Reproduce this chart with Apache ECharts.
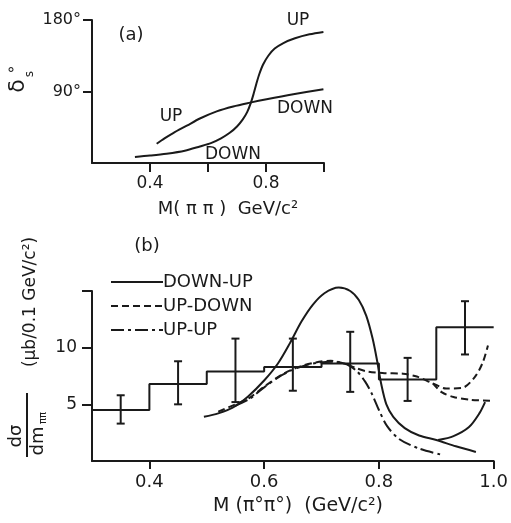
<!DOCTYPE html>
<html>
<head>
<meta charset="utf-8">
<script src="https://cdn.jsdelivr.net/npm/echarts@6/dist/echarts.min.js"></script>
<style>
html, body { margin: 0; padding: 0; background: #fff; }
#chart { width: 511px; height: 523px; }
</style>
</head>
<body>
<div id="chart"></div>
<script>
// (a) phase shift curves
const phaseSteep = [[0.348, 7.5], [0.4, 9.3], [0.457, 11.7], [0.52, 15.5], [0.572, 20.8], [0.61, 25], [0.645, 31], [0.675, 38], [0.7, 46], [0.72, 55], [0.735, 64], [0.748, 76], [0.758, 88], [0.767, 100], [0.777, 112], [0.79, 124], [0.808, 135], [0.83, 144], [0.86, 151], [0.9, 157], [0.95, 162], [0.998, 165]]
const phaseShallow = [[0.423, 24.2], [0.45, 31], [0.48, 37.7], [0.527, 47], [0.572, 56], [0.63, 65], [0.687, 71.2], [0.745, 76], [0.802, 80.3], [0.894, 86.6], [0.998, 92.9]]
const aXTicks = [0.4, 0.6, 0.8, 1.0]
const aXLabels = [0.4, 0.8]
const aYTicks = [90, 180]

// (b) mass spectrum
const binEdges = [0.3, 0.4, 0.5, 0.6, 0.7, 0.8, 0.9, 1.0]
const binValues = [4.5, 6.8, 7.9, 8.3, 8.6, 7.2, 11.8]
const errX = [0.35, 0.45, 0.55, 0.65, 0.75, 0.85, 0.95]
const errLow = [3.3, 5.0, 5.2, 6.2, 6.1, 5.3, 9.4]
const errHigh = [5.8, 8.8, 10.8, 10.8, 11.4, 9.1, 14.1]
const downUp = [[0.495, 3.9], [0.52, 4.2], [0.545, 4.7], [0.572, 5.7], [0.6, 7.1], [0.624, 8.6], [0.645, 10.4], [0.665, 12.3], [0.685, 13.8], [0.705, 14.8], [0.73, 15.3], [0.75, 15.0], [0.765, 14.2], [0.778, 12.8], [0.789, 10.8], [0.797, 8.8], [0.804, 6.8], [0.813, 5.0], [0.825, 3.9], [0.845, 2.9], [0.87, 2.25], [0.9, 1.85], [0.934, 1.3], [0.969, 0.8]]
const downUpBranch = [[0.903, 1.85], [0.93, 2.2], [0.957, 3.0], [0.975, 4.2], [0.985, 5.2]]
const upDown = [[0.52, 4.35], [0.55, 5.0], [0.575, 5.6], [0.6, 6.55], [0.63, 7.6], [0.66, 8.3], [0.69, 8.7], [0.716, 8.85], [0.74, 8.6], [0.76, 8.2], [0.78, 7.9], [0.81, 7.75], [0.842, 7.7], [0.866, 7.45], [0.894, 6.85], [0.917, 6.4], [0.945, 6.45], [0.967, 7.4], [0.981, 8.7], [0.99, 10.2]]
const upDownBranch = [[0.894, 6.85], [0.91, 6.05], [0.93, 5.65], [0.96, 5.4], [0.998, 5.3]]
const upUp = [[0.55, 4.9], [0.575, 5.5], [0.6, 6.5], [0.63, 7.55], [0.66, 8.25], [0.69, 8.65], [0.72, 8.75], [0.745, 8.5], [0.762, 7.9], [0.776, 7.0], [0.788, 5.9], [0.8, 4.5], [0.814, 3.1], [0.835, 1.95], [0.87, 1.1], [0.911, 0.53]]
const bXTicks = [0.4, 0.6, 0.8, 1.0]
const bYTicks = [5, 10, 15]
const bYLabels = [5, 10]

const ink = '#1a1a1a'
const font = 'DejaVu Sans'
const dashed = [7, 4]
const dashDot = [13, 4, 3, 4]

const chart = echarts.init(document.getElementById('chart'))

function axisBase(extra) {
  return Object.assign({
    type: 'value',
    axisLine: { show: true, lineStyle: { color: ink, width: 2 } },
    splitLine: { show: false }
  }, extra)
}

function text(x, y, str, size, extra) {
  return Object.assign({
    type: 'text', x: x, y: y,
    style: { text: str, font: size + 'px "' + font + '"', fill: ink, align: 'center', verticalAlign: 'middle' }
  }, extra || {})
}

const histData = binEdges.map((x, i) => [x, binValues[Math.min(i, binValues.length - 1)]])
const errData = errX.map((x, i) => [x, errLow[i], errHigh[i]])

const curve = (name, data, type, axis) => ({
  name: name, type: 'line', xAxisIndex: axis, yAxisIndex: axis, data: data,
  smooth: 0.3, symbol: 'none', silent: true, clip: false,
  itemStyle: { color: ink },
  lineStyle: { color: ink, width: 2, type: type }
})

const option = {
  animation: false,
  backgroundColor: '#fff',
  grid: [
    { left: 92, right: 187, top: 20, bottom: 360 },
    { left: 92, right: 14, top: 291, bottom: 62 }
  ],
  xAxis: [
    axisBase({
      gridIndex: 0, min: 0.2, max: 1.0,
      axisTick: { show: true, length: 9, customValues: aXTicks, lineStyle: { color: ink, width: 2 } },
      axisLabel: { color: ink, fontFamily: font, fontSize: 17, margin: 12, customValues: aXLabels, formatter: (v) => v.toFixed(1) }
    }),
    axisBase({
      gridIndex: 1, min: 0.3, max: 1.0,
      axisTick: { show: true, length: 8, customValues: bXTicks, lineStyle: { color: ink, width: 2 } },
      axisLabel: { color: ink, fontFamily: font, fontSize: 18, margin: 12, customValues: bXTicks, formatter: (v) => v.toFixed(1) }
    })
  ],
  yAxis: [
    axisBase({
      gridIndex: 0, min: 0, max: 180,
      axisTick: { show: true, length: 9, customValues: aYTicks, lineStyle: { color: ink, width: 2 } },
      axisLabel: { color: ink, fontFamily: font, fontSize: 16, margin: 11, customValues: aYTicks, formatter: '{value}°' }
    }),
    axisBase({
      gridIndex: 1, min: 0, max: 15,
      axisTick: { show: true, length: 10, customValues: bYTicks, lineStyle: { color: ink, width: 2 } },
      axisLabel: { color: ink, fontFamily: font, fontSize: 17, margin: 15, customValues: bYLabels }
    })
  ],
  legend: {
    data: ['DOWN-UP', 'UP-DOWN', 'UP-UP'],
    orient: 'vertical', left: 105, top: 268,
    itemWidth: 52, itemHeight: 14, itemGap: 6,
    selectedMode: false,
    itemStyle: { opacity: 0, borderWidth: 0 },
    textStyle: { color: ink, fontFamily: font, fontSize: 18, padding: [0, 0, 0, -5] }
  },
  series: [
    curve('', phaseSteep, 'solid', 0),
    curve('', phaseShallow, 'solid', 0),
    {
      type: 'line', xAxisIndex: 1, yAxisIndex: 1, data: histData,
      step: 'end', symbol: 'none', silent: true, lineStyle: { color: ink, width: 2 }
    },
    {
      type: 'custom', xAxisIndex: 1, yAxisIndex: 1, data: errData, silent: true,
      encode: { x: 0, y: [1, 2] },
      renderItem(params, api) {
        const lo = api.coord([api.value(0), api.value(1)])
        const hi = api.coord([api.value(0), api.value(2)])
        const w = 4
        const st = { stroke: ink, lineWidth: 2 }
        return {
          type: 'group',
          children: [
            { type: 'line', shape: { x1: lo[0], y1: lo[1], x2: hi[0], y2: hi[1] }, style: st },
            { type: 'line', shape: { x1: lo[0] - w, y1: lo[1], x2: lo[0] + w, y2: lo[1] }, style: st },
            { type: 'line', shape: { x1: hi[0] - w, y1: hi[1], x2: hi[0] + w, y2: hi[1] }, style: st }
          ]
        }
      }
    },
    curve('DOWN-UP', downUp, 'solid', 1),
    curve('DOWN-UP', downUpBranch, 'solid', 1),
    curve('UP-DOWN', upDown, dashed, 1),
    curve('UP-DOWN', upDownBranch, dashed, 1),
    curve('UP-UP', upUp, dashDot, 1)
  ],
  graphic: [
    text(131, 35, '(a)', 18),
    text(298, 21, 'UP', 17),
    text(171, 117, 'UP', 17),
    text(305, 109, 'DOWN', 17),
    text(233, 155, 'DOWN', 17),
    text(18, 86, 'δ', 22, { rotation: Math.PI / 2 }),
    text(11, 75, '°', 16),
    text(30, 74, 's', 12, { rotation: Math.PI / 2 }),
    text(228, 209, 'M( π π )  GeV/c²', 18),
    text(147, 246, '(b)', 18),
    text(16, 436, 'dσ', 18, { rotation: Math.PI / 2 }),
    { type: 'line', shape: { x1: 27, y1: 393, x2: 27, y2: 457 }, style: { stroke: ink, lineWidth: 2 } },
    text(38, 441, 'dm', 18, { rotation: Math.PI / 2 }),
    text(43, 418, 'ππ', 10, { rotation: Math.PI / 2 }),
    text(31, 302, '(μb/0.1 GeV/c²)', 17, { rotation: Math.PI / 2 }),
    text(298, 506, 'M (π°π°)  (GeV/c²)', 19)
  ]
}

option && chart.setOption(option)
</script>
</body>
</html>
